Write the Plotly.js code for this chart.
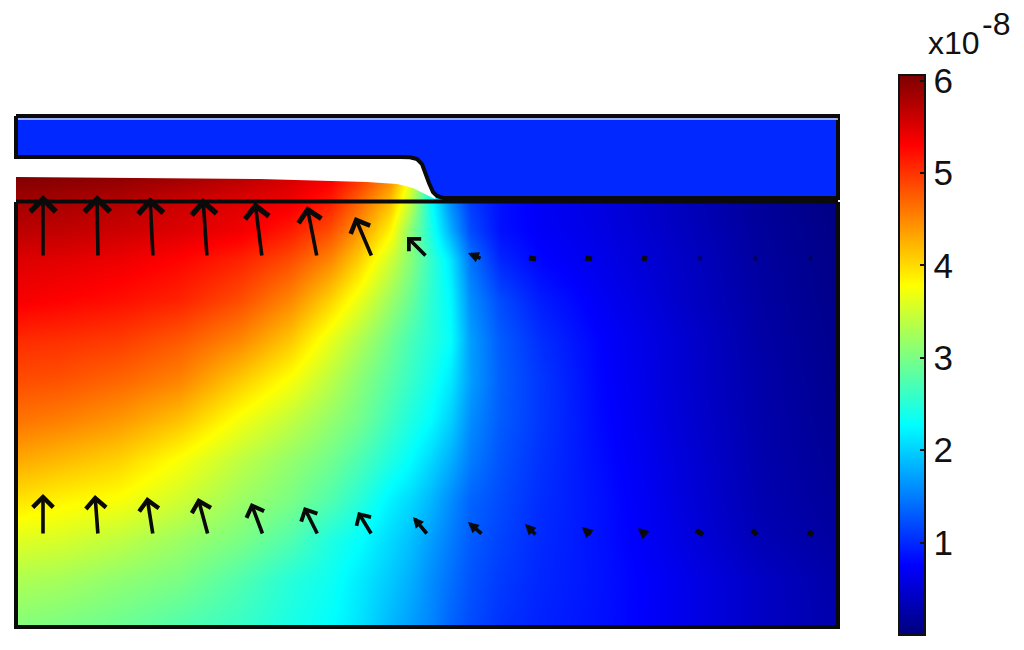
<!DOCTYPE html>
<html>
<head>
<meta charset="utf-8">
<script src="https://cdn.plot.ly/plotly-3.0.1.min.js"></script>
<style>html,body{margin:0;padding:0;background:#fff}#chart{width:1024px;height:650px}</style>
</head>
<body>
<div id="chart"></div>
<script>
// Field (units of 1e-8)
const gridX = [16,60,120,180,240,290,330,360,390,410,430,450,470,500,540,600,680,760,838];
const gridY = [178,200,230,260,300,340,380,420,460,500,540,580,627];
const row178 = [6.03,6.0,5.95,5.85,5.7,5.55,5.35,5.0,4.5,3.7,2.6,1.6,1.1,0.85,0.7,0.58,0.38,0.16,0.03];
const row200 = [5.85,5.82,5.75,5.62,5.5,5.4,5.15,4.7,4.2,3.45,2.35,1.6,1.1,0.85,0.7,0.58,0.38,0.16,0.03];
const row230 = [5.7,5.67,5.6,5.5,5.38,5.15,4.85,4.4,3.85,3.1,2.45,1.8,1.2,0.85,0.72,0.6,0.4,0.18,0.05];
const row260 = [5.5,5.47,5.4,5.28,5.1,4.85,4.5,4.05,3.5,3.08,2.6,2.15,1.45,0.98,0.78,0.63,0.43,0.2,0.06];
const row300 = [5.35,5.3,5.22,5.1,4.85,4.5,4.05,3.65,3.2,2.9,2.55,2.25,1.6,1.2,0.92,0.7,0.45,0.22,0.07];
const row340 = [5.05,5.02,4.95,4.78,4.5,4.12,3.65,3.3,2.95,2.7,2.5,2.3,1.7,1.3,1.03,0.76,0.5,0.24,0.09];
const row380 = [4.85,4.82,4.7,4.52,4.1,3.75,3.38,3.08,2.8,2.6,2.4,2.15,1.7,1.32,1.08,0.78,0.5,0.26,0.1];
const row420 = [4.62,4.55,4.4,4.15,3.72,3.42,3.15,2.95,2.65,2.45,2.27,2.0,1.6,1.3,1.08,0.8,0.52,0.27,0.12];
const row460 = [4.3,4.2,4.05,3.75,3.4,3.15,2.95,2.72,2.45,2.27,2.05,1.8,1.5,1.25,1.05,0.82,0.55,0.28,0.14];
const row500 = [3.95,3.85,3.75,3.5,3.2,3.0,2.75,2.5,2.2,2.05,1.85,1.6,1.35,1.2,1.02,0.85,0.57,0.3,0.17];
const row540 = [3.6,3.55,3.4,3.2,3.0,2.75,2.45,2.28,2.05,1.9,1.7,1.5,1.3,1.15,1.0,0.85,0.6,0.33,0.2];
const row580 = [3.3,3.25,3.12,3.0,2.75,2.5,2.35,2.15,1.95,1.8,1.6,1.42,1.25,1.1,0.98,0.86,0.65,0.42,0.25];
const row627 = [3.05,3.0,2.9,2.75,2.6,2.42,2.28,2.1,1.85,1.7,1.55,1.35,1.2,1.05,0.95,0.85,0.65,0.42,0.27];

// Upper blue body outline
const bodyX = [16,838,838,443,437,433,429,427,425,422,417,410,400,16,16];
const bodyY = [116,116,198,198,196,192,183,177,170,164,159,157.3,157,157,116];
// White gap between the body and the free surface
const gapX = [16,400,410,417,422,425,427,429,433,437,435,423,413,397,380,367,260,170,80,16,16];
const gapY = [157,157,157.3,159,164,170,177,183,192,196,199,193,188,184,183,182,179,178,177,177,157];
// Highlight under the top edge
const glintX = [18,838];
const glintY = [119,119];
// Lower box outline
const boxX = [16,16,838,838];
const boxY = [202,627,627,202];
const lidX = [16,838];
const lidY = [201.5,201.5];

// Arrows: tail and tip
const upperTailX = [43,98,153,207,262,317,372,427,482,536,592,647,702,757,812];
const upperTailY = [257,257,257,257,257,257,257,257,259,259,259,259,259,259,259];
const upperTipX  = [43,97,150,203,255,307,355,407,468,529,585,642,698,753,809];
const upperTipY  = [195,195,197,198,202,206,217,237,253,258,258,258,258,258,258];
const lowerTailX = [43,98,153,208,263,318,372,428,483,537,592,647,703,757,813];
const lowerTailY = [535,535,535,535,535,535,535,535,535,536,536,536,535,535,535];
const lowerTipX  = [43,95,147,198,251,304,358,413,468,525,582,638,696,752,808];
const lowerTipY  = [494,495,497,498,503,507,512,517,522,524,527,528,530,530,532];

const tickVals = [1,2,3,4,5,6];
const tickText = ['1','2','3','4','5','6'];
const zMin = 0, zMax = 6.06;

const jet = [[0,'rgb(0,0,125)'],[0.125,'rgb(0,0,255)'],[0.375,'rgb(0,255,255)'],
             [0.625,'rgb(255,255,0)'],[0.875,'rgb(255,0,0)'],[1,'rgb(125,0,0)']];

const W = 1024, H = 650;
const barTop = 75, barBottom = 635, barLeft = 899, barWidth = 26;
const plotFont = '"Liberation Sans",sans-serif';
const ink = '#0a0a0a';

const annotations = [];
const blobX = [], blobY = [], faintX = [], faintY = [];
function addArrow(tx, ty, hx, hy) {
  const len = Math.hypot(tx-hx, ty-hy);
  if (len < 9) {
    const xs = len > 4.5 ? blobX : faintX, ys = len > 4.5 ? blobY : faintY;
    xs.push(tx, hx, null); ys.push(ty, hy, null);
    return;
  }
  const small = len < 24;
  annotations.push({xref:'x2', yref:'y2', axref:'x2', ayref:'y2', x:hx, y:hy, ax:tx, ay:ty, text:'',
    showarrow:true, arrowhead:small ? 2 : 4, arrowsize:small ? 0.6 : 0.55+len/75,
    arrowwidth:3.6, arrowcolor:ink, standoff:0});
}
upperTailX.forEach((v,i)=>addArrow(v,upperTailY[i],upperTipX[i],upperTipY[i]));
lowerTailX.forEach((v,i)=>addArrow(v,lowerTailY[i],lowerTipX[i],lowerTipY[i]));

const traces = [
  {type:'heatmap', x:gridX, y:gridY,
   z:[row178,row200,row230,row260,row300,row340,row380,row420,row460,row500,row540,row580,row627],
   colorscale:jet, zmin:zMin, zmax:zMax, zsmooth:'best', hoverinfo:'skip',
   colorbar:{xref:'container', yref:'container', x:barLeft/W, xanchor:'left', xpad:0,
     y:1-barTop/H, yanchor:'top', ypad:0,
     lenmode:'pixels', len:barBottom-barTop, thicknessmode:'pixels', thickness:barWidth,
     outlinewidth:2, outlinecolor:'#111', borderwidth:0,
     ticks:'inside', ticklen:6, tickwidth:2, tickcolor:'#111',
     tickmode:'array', tickvals:tickVals, ticktext:tickText,
     tickfont:{family:plotFont, size:35, color:'#111'}}},
  {type:'scatter', mode:'lines', xaxis:'x2', yaxis:'y2', x:gapX, y:gapY, fill:'toself',
   fillcolor:'#fff', line:{width:0}, hoverinfo:'skip', showlegend:false},
  {type:'scatter', mode:'lines', xaxis:'x2', yaxis:'y2', x:bodyX, y:bodyY, fill:'toself',
   fillcolor:'rgb(0,40,255)', line:{color:ink, width:4},
   hoverinfo:'skip', showlegend:false},
  {type:'scatter', mode:'lines', xaxis:'x2', yaxis:'y2', x:glintX, y:glintY,
   line:{color:'rgba(235,240,255,0.9)', width:1.5}, hoverinfo:'skip', showlegend:false},
  {type:'scatter', mode:'lines', xaxis:'x2', yaxis:'y2', x:boxX, y:boxY,
   line:{color:ink, width:4}, hoverinfo:'skip', showlegend:false},
  {type:'scatter', mode:'lines', xaxis:'x2', yaxis:'y2', x:lidX, y:lidY,
   line:{color:ink, width:4}, hoverinfo:'skip', showlegend:false},
  {type:'scatter', mode:'lines', xaxis:'x2', yaxis:'y2', x:blobX, y:blobY,
   line:{color:ink, width:5}, hoverinfo:'skip', showlegend:false},
  {type:'scatter', mode:'lines', xaxis:'x2', yaxis:'y2', x:faintX, y:faintY,
   line:{color:'rgba(0,0,50,0.65)', width:4}, hoverinfo:'skip', showlegend:false}
];

annotations.push({xref:'x2', yref:'y2', x:928, y:43, text:'x10', showarrow:false, xanchor:'left', yanchor:'middle',
                  xshift:-2, font:{family:plotFont, size:32, color:'#111'}});
annotations.push({xref:'x2', yref:'y2', x:982, y:24, text:'-8', showarrow:false, xanchor:'left', yanchor:'middle',
                  xshift:-2, font:{family:plotFont, size:32, color:'#111'}});

// Left-hand colour bar ticks mirror the colour bar's own ticks
const shapes = tickVals.map(v=>{
  const py = barBottom - (v-zMin)/(zMax-zMin)*(barBottom-barTop);
  return {type:'line', xref:'x2', yref:'y2', x0:barLeft, x1:barLeft+6, y0:py, y1:py,
          line:{color:'#111', width:2}};
});

const layout = {
  width:W, height:H, paper_bgcolor:'#fff', plot_bgcolor:'rgba(0,0,0,0)',
  margin:{l:0,r:0,t:0,b:0,pad:0,autoexpand:false}, showlegend:false,
  xaxis:{domain:[16/W,838/W], range:[16,838], visible:false, fixedrange:true},
  yaxis:{domain:[1-627/H,1-176/H], range:[627,176], visible:false, fixedrange:true},
  xaxis2:{domain:[0,1], range:[0,W], visible:false, anchor:'y2', fixedrange:true},
  yaxis2:{domain:[0,1], range:[H,0], visible:false, anchor:'x2', fixedrange:true},
  annotations, shapes
};
Plotly.newPlot('chart', traces, layout, {displayModeBar:false, staticPlot:true});
</script>
</body>
</html>
